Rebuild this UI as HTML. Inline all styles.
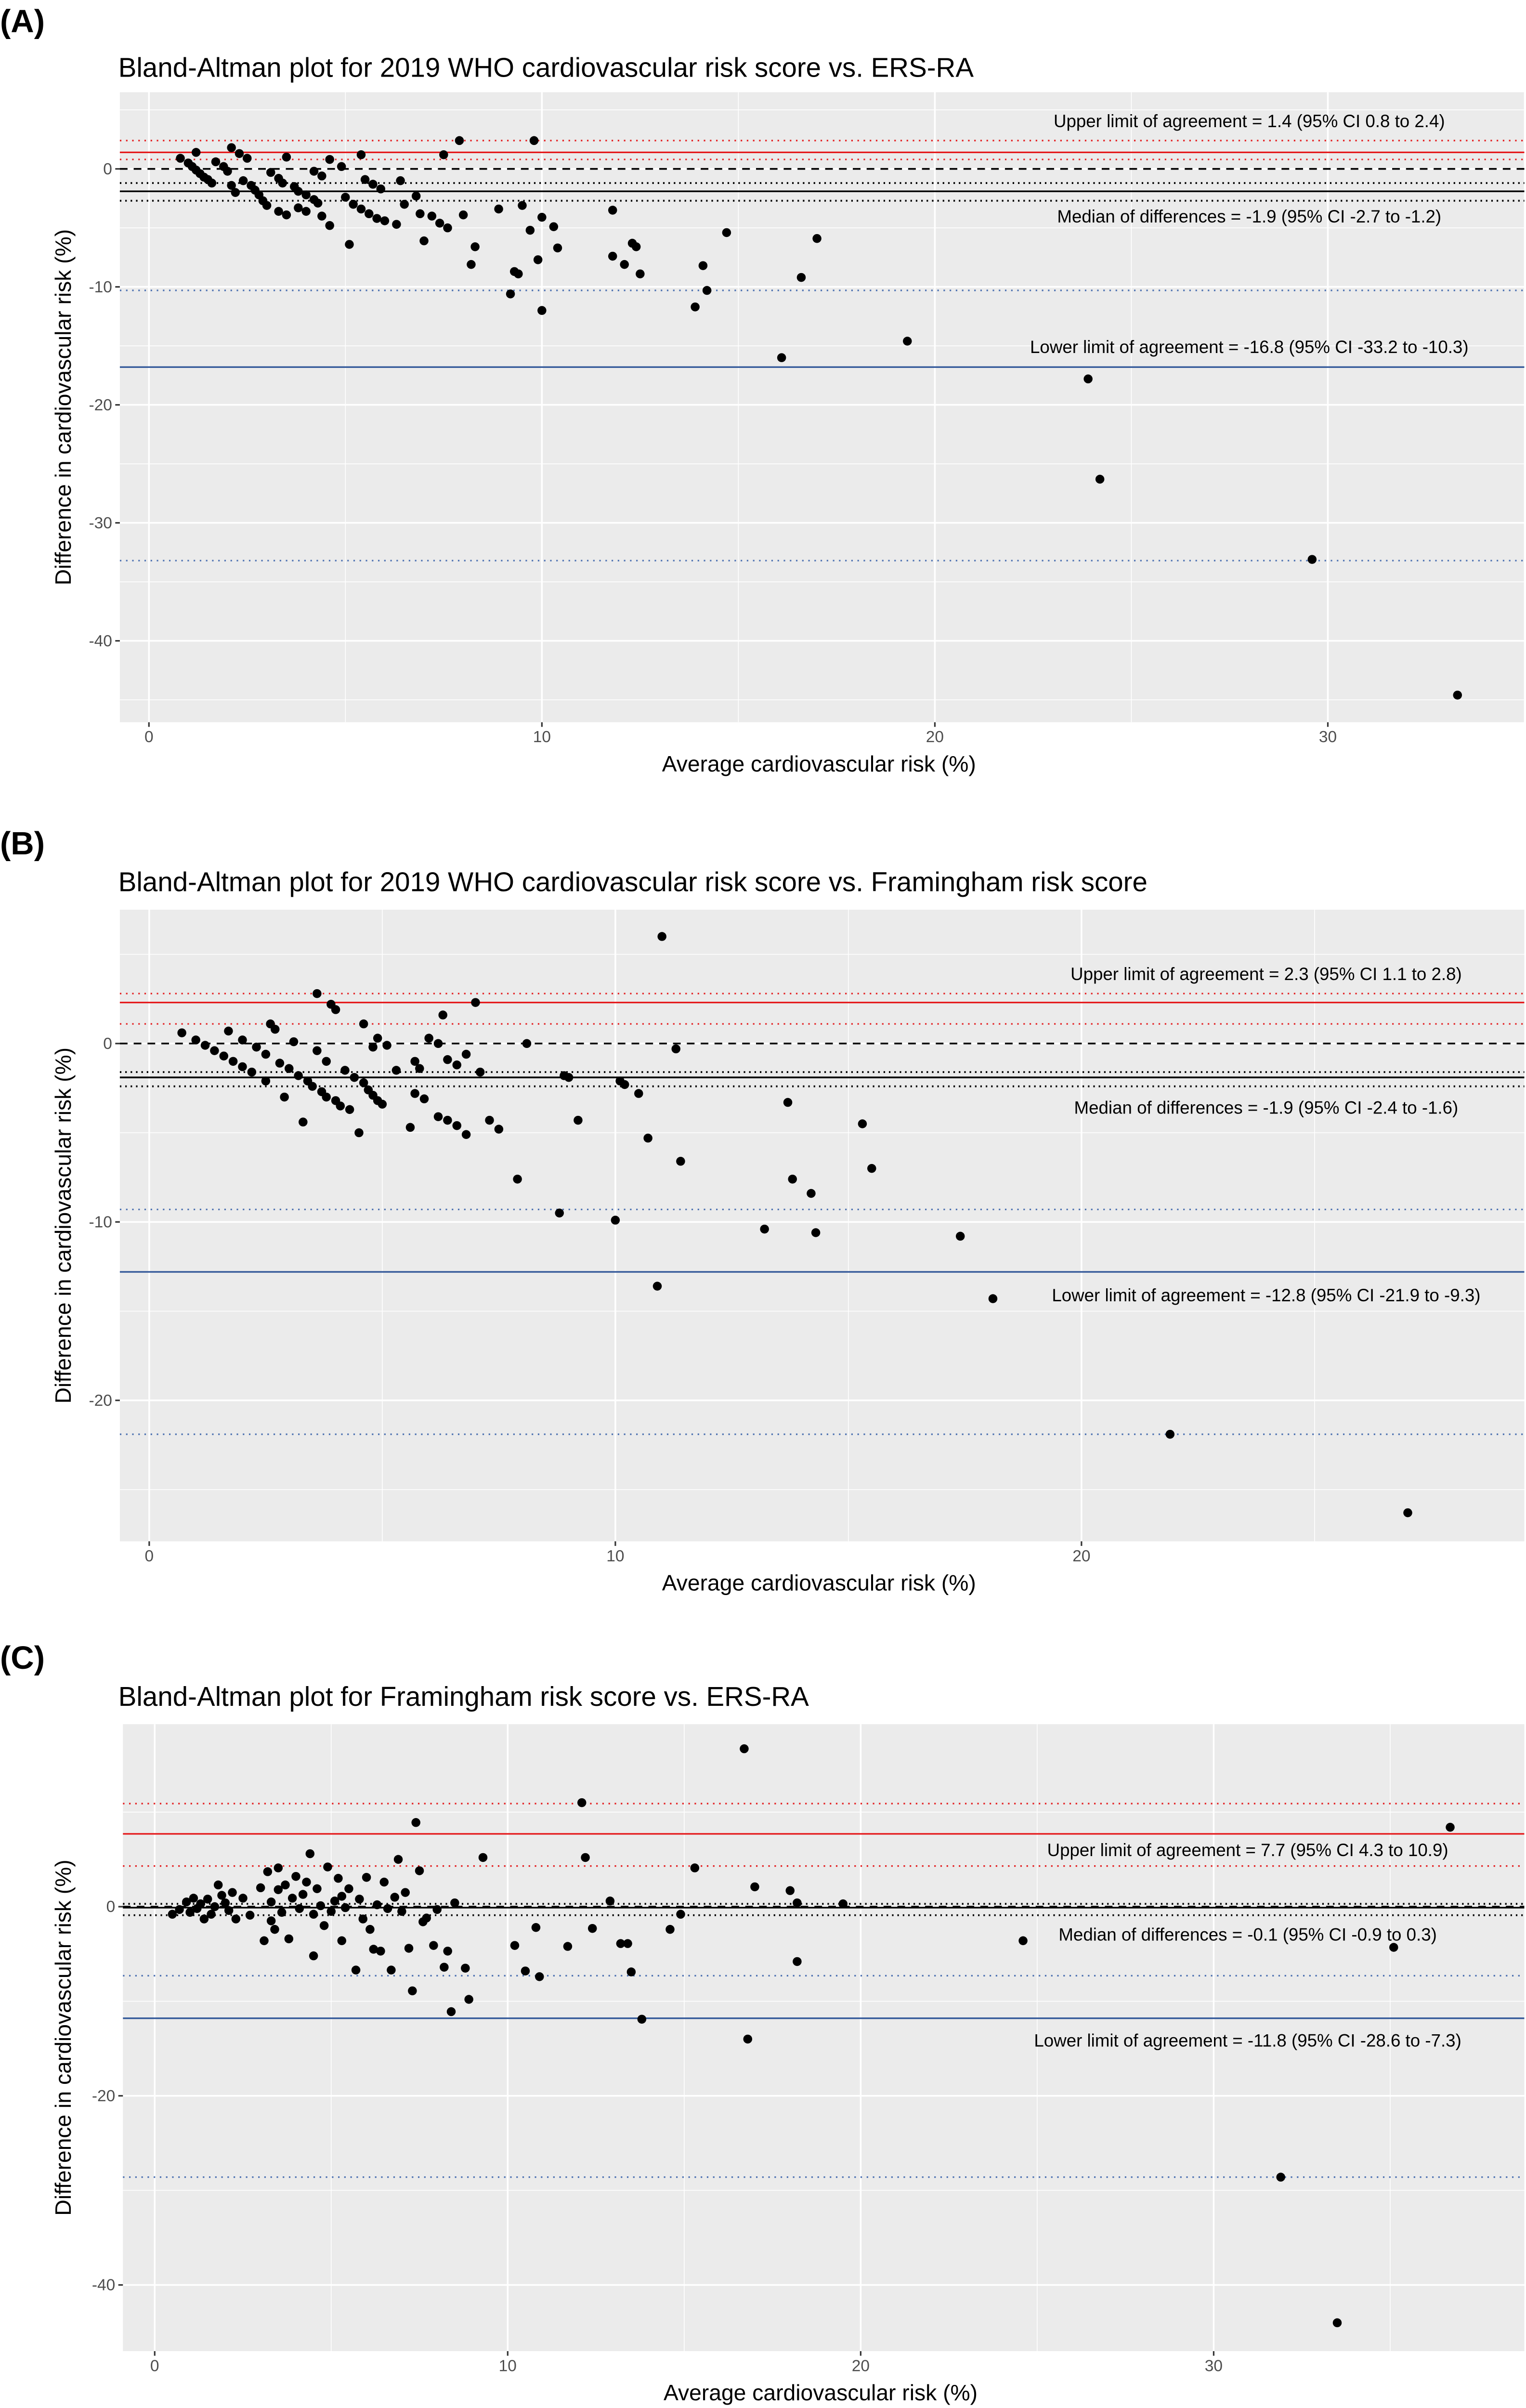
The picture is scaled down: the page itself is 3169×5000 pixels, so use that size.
<!DOCTYPE html>
<html><head><meta charset="utf-8"><style>
html,body{margin:0;padding:0;background:#fff}
svg{display:block;font-family:"Liberation Sans",Arial,sans-serif}
</style></head><body>
<svg id="chart" width="3169" height="5000" viewBox="0 0 993.1 1567" preserveAspectRatio="none" xmlns="http://www.w3.org/2000/svg"></svg>
<script>
// ---- Panel A data ----
const aAvg = [0.8,1.0,1.1,1.2,1.3,1.4,1.5,1.6,1.2,1.7,1.9,2.0,2.1,2.2,2.1,2.3,2.5,2.4,2.6,2.7,2.8,2.9,3.0,3.1,3.3,3.4,3.5,3.3,3.5,3.7,3.8,4.0,4.2,4.3,3.8,4.0,4.4,4.2,4.4,4.6,4.6,4.9,5.0,5.2,5.4,5.6,5.8,5.1,5.4,5.5,5.7,5.9,6.0,6.3,6.5,6.4,6.8,6.9,7.0,7.2,7.4,7.5,7.6,7.9,8.0,8.2,8.3,8.9,9.2,9.3,9.4,9.5,9.8,9.7,9.9,10.0,10.0,10.3,10.4,11.8,11.8,12.1,12.3,12.4,12.5,13.9,14.1,14.2,14.7,16.1,16.6,17.0,19.3,23.9,24.2,29.6,33.3];
const aDiff = [0.9,0.5,0.2,-0.1,-0.4,-0.7,-0.9,-1.2,1.4,0.6,0.2,-0.2,-1.4,-2.0,1.8,1.3,0.9,-1.0,-1.4,-1.8,-2.2,-2.7,-3.1,-0.3,-0.8,-1.2,-3.9,-3.6,1.0,-1.5,-1.9,-2.2,-2.6,-2.9,-3.3,-3.6,-4.0,-0.2,-0.6,-4.8,0.8,0.2,-2.4,-3.0,-3.4,-3.8,-4.2,-6.4,1.2,-0.9,-1.3,-1.7,-4.4,-4.7,-3.0,-1.0,-2.3,-3.8,-6.1,-4.0,-4.6,1.2,-5.0,2.4,-3.9,-8.1,-6.6,-3.4,-10.6,-8.7,-8.9,-3.1,2.4,-5.2,-7.7,-12.0,-4.1,-4.9,-6.7,-3.5,-7.4,-8.1,-6.3,-6.6,-8.9,-11.7,-8.2,-10.3,-5.4,-16.0,-9.2,-5.9,-14.6,-17.8,-26.3,-33.1,-44.6];
const aStats = [1.4,0.8,2.4,-1.9,-2.7,-1.2,-16.8,-33.2,-10.3];
const aXTicks = [0,10,20,30];
const aYTicks = [0,-10,-20,-30,-40];
// ---- Panel B data ----
const bAvg = [0.7,1.0,1.2,1.4,1.6,1.8,2.0,1.7,2.0,2.2,2.3,2.5,2.5,2.6,2.7,2.8,2.9,3.0,3.2,3.1,3.4,3.5,3.7,3.8,3.3,3.6,3.6,3.9,3.8,4.0,4.1,4.3,4.0,4.2,4.4,4.6,4.7,4.8,4.9,5.0,4.6,4.5,4.8,4.9,5.1,5.3,5.6,5.7,5.9,5.7,5.8,6.0,6.2,6.2,6.4,6.3,6.4,6.6,6.6,6.8,6.8,7.0,7.1,7.3,7.5,7.9,8.1,8.8,8.9,9.0,9.2,10.0,10.1,10.2,10.5,10.7,10.9,11.0,11.3,11.4,13.2,13.7,13.8,14.2,14.3,15.3,15.5,17.4,18.1,21.9,27.0];
const bDiff = [0.6,0.2,-0.1,-0.4,-0.7,-1.0,-1.3,0.7,0.2,-1.6,-0.2,-2.1,-0.6,1.1,0.8,-1.1,-3.0,-1.4,-1.8,0.1,-2.1,-2.4,-2.7,-3.0,-4.4,2.8,-0.4,2.2,-1.0,-3.2,-3.5,-3.7,1.9,-1.5,-1.9,-2.2,-2.6,-2.9,-3.2,-3.4,1.1,-5.0,-0.2,0.3,-0.1,-1.5,-4.7,-2.8,-3.1,-1.0,-1.4,0.3,0.0,-4.1,-4.3,1.6,-0.9,-1.2,-4.6,-5.1,-0.6,2.3,-1.6,-4.3,-4.8,-7.6,0.0,-9.5,-1.8,-1.9,-4.3,-9.9,-2.1,-2.3,-2.8,-5.3,-13.6,6.0,-0.3,-6.6,-10.4,-3.3,-7.6,-8.4,-10.6,-4.5,-7.0,-10.8,-14.3,-21.9,-26.3];
const bStats = [2.3,1.1,2.8,-1.9,-2.4,-1.6,-12.8,-21.9,-9.3];
const bXTicks = [0,10,20];
const bYTicks = [0,-10,-20];
// ---- Panel C data ----
const cAvg = [0.5,0.7,0.9,1.0,1.1,1.2,1.3,1.4,1.5,1.6,1.7,1.8,1.9,2.0,2.1,2.2,2.3,2.5,2.7,3.0,3.1,3.2,3.3,3.3,3.4,3.5,3.5,3.6,3.7,3.8,3.9,4.0,4.1,4.2,4.3,4.4,4.5,4.5,4.6,4.7,4.8,4.9,5.0,5.1,5.2,5.3,5.3,5.4,5.5,5.7,5.8,5.9,6.0,6.1,6.2,6.3,6.4,6.5,6.6,6.7,6.8,6.9,7.0,7.1,7.2,7.3,7.4,7.5,7.6,7.7,7.9,8.0,8.2,8.3,8.4,8.5,8.8,8.9,9.3,10.2,10.5,10.8,10.9,11.7,12.1,12.2,12.4,12.9,13.2,13.4,13.5,13.8,14.6,14.9,15.3,16.7,16.8,17.0,18.0,18.2,18.2,19.5,24.6,31.9,33.5,35.1,36.7];
const cDiff = [-0.8,-0.3,0.5,-0.6,0.9,-0.2,0.3,-1.3,0.8,-0.8,0.0,2.3,1.2,0.4,-0.4,1.5,-1.3,0.9,-0.9,2.0,-3.6,3.7,0.5,-1.5,-2.4,4.1,1.8,-0.6,2.3,-3.4,0.9,3.2,-0.2,1.3,2.6,5.6,-5.2,-0.8,1.9,0.1,-2.0,4.2,-0.5,0.6,3.0,1.1,-3.6,-0.1,1.9,-6.7,0.8,-1.3,3.1,-2.4,-4.5,0.2,-4.7,2.6,-0.2,-6.7,1.0,5.0,-0.5,1.5,-4.4,-8.9,8.9,3.8,-1.6,-1.2,-4.1,-0.3,-6.4,-4.7,-11.1,0.4,-6.5,-9.8,5.2,-4.1,-6.8,-2.2,-7.4,-4.2,11.0,5.2,-2.3,0.6,-3.9,-3.9,-6.9,-11.9,-2.4,-0.8,4.1,16.7,-14.0,2.1,1.7,0.4,-5.8,0.3,-3.6,-28.6,-44.0,-4.3,8.4];
const cStats = [7.7,4.3,10.9,-0.1,-0.9,0.3,-11.8,-28.6,-7.3];
const cXTicks = [0,10,20,30];
const cYTicks = [0,-20,-40];

const NS="http://www.w3.org/2000/svg";
const svg=document.getElementById('chart');
function mk(tag,attrs,parent){const e=document.createElementNS(NS,tag);for(const k in attrs)e.setAttribute(k,attrs[k]);(parent||svg).appendChild(e);return e;}

function panel(p){
  const g=mk('g',{});
  
  
  const sx=v=>p.x0+(v-p.xmin)/(p.xmax-p.xmin)*(p.x1-p.x0);
  const sy=v=>p.y0+(p.ymax-v)/(p.ymax-p.ymin)*(p.y1-p.y0);
  const lab=mk('text',{x:0,y:p.labY,'font-size':21,'font-weight':'bold',fill:'#000'},g);lab.textContent='('+p.id.toUpperCase()+')';
  
  
  const t=mk('text',{x:77,y:p.titleY,'font-size':17.7,fill:'#000'},g);t.textContent=p.title;
  
  
  const bg=mk('rect',{x:p.x0,y:p.y0,width:p.x1-p.x0,height:p.y1-p.y0,fill:'#EBEBEB'},g);
  
  
  const xst=p.xT[1]-p.xT[0], yst=p.yT[0]-p.yT[1];
  for(let v=p.xT[0]-xst/2;v<=p.xmax;v+=xst){if(v<p.xmin)continue;mk('line',{x1:sx(v),x2:sx(v),y1:p.y0,y2:p.y1,stroke:'#fff','stroke-width':0.5},g);}
  for(let v=p.yT[0]+yst/2*3;v>=p.ymin;v-=yst/2){if(v>p.ymax)continue;mk('line',{x1:p.x0,x2:p.x1,y1:sy(v),y2:sy(v),stroke:'#fff','stroke-width':0.5},g);}
  p.xT.forEach(v=>{
    const l=mk('line',{x1:sx(v),x2:sx(v),y1:p.y0,y2:p.y1,stroke:'#fff','stroke-width':1.1},g);
    
    
    mk('line',{x1:sx(v),x2:sx(v),y1:p.y1,y2:p.y1+3,stroke:'#333','stroke-width':1},g);
    const tx=mk('text',{x:sx(v),y:p.y1+13,'font-size':10.5,fill:'#4D4D4D','text-anchor':'middle'},g);tx.textContent=v;
    
    
  });
  const extraY=[...p.yT]; if(p.yExtra) extraY.push(p.yExtra);
  extraY.forEach(v=>{
    const l=mk('line',{x1:p.x0,x2:p.x1,y1:sy(v),y2:sy(v),stroke:'#fff','stroke-width':1.1},g);
    
    
  });
  p.yT.forEach(v=>{
    mk('line',{x1:p.x0-3,x2:p.x0,y1:sy(v),y2:sy(v),stroke:'#333','stroke-width':1},g);
    const ty=mk('text',{x:p.x0-5,y:sy(v)+3.5,'font-size':10.5,fill:'#4D4D4D','text-anchor':'end'},g);ty.textContent=v;
    
    
  });
  const xt=mk('text',{x:(p.x0+p.x1)/2-2,y:p.y1+32,'font-size':14.5,fill:'#000','text-anchor':'middle'},g);xt.textContent='Average cardiovascular risk (%)';
  
  
  const yc=(p.y0+p.y1)/2;
  const yt=mk('text',{x:46,y:yc,'font-size':14.5,fill:'#000','text-anchor':'middle',transform:'rotate(-90 46 '+yc+')'},g);yt.textContent='Difference in cardiovascular risk (%)';
  
  
  const s=p.stats;
  const hl=(v,col,dash,w,name)=>{const l=mk('line',{x1:p.x0,x2:p.x1,y1:sy(v),y2:sy(v),stroke:col,'stroke-width':w,'stroke-dasharray':dash||'none'},g);
    
    };
  if(p.zero) hl(0,'#000','5,4',1.1,'zero-line');
  hl(s[1],'#E41A1C','1,3',1,'upper-ci-line');hl(s[2],'#E41A1C','1,3',1,'upper-ci-line');hl(s[0],'#E41A1C','',1,'upper-limit-line');
  hl(s[4],'#000','1,2.5',1.2,'median-ci-line');hl(s[5],'#000','1,2.5',1.2,'median-ci-line');hl(s[3],'#000','',1.1,'median-line');
  hl(s[7],'#4A6FB0','1,3',1,'lower-ci-line');hl(s[8],'#4A6FB0','1,3',1,'lower-ci-line');hl(s[6],'#2F5597','',1,'lower-limit-line');
  p.avg.forEach((a,i)=>{
    const c=mk('circle',{cx:sx(a),cy:sy(p.diff[i]),r:2.9,fill:'#000'},g);
    
    
  });
  const ann=[['Upper limit of agreement = '+s[0]+' (95% CI '+s[1]+' to '+s[2]+')',p.annY[0]],['Median of differences = '+s[3]+' (95% CI '+s[4]+' to '+s[5]+')',p.annY[1]],['Lower limit of agreement = '+s[6]+' (95% CI '+s[7]+' to '+s[8]+')',p.annY[2]]];
  ann.forEach(([txt,y])=>{
    const a=mk('text',{x:p.annX,y:y+3.8,'font-size':11.5,fill:'#000','text-anchor':'middle'},g);a.textContent=txt;
    
    
  });
}
panel({id:'a',title:'Bland-Altman plot for 2019 WHO cardiovascular risk score vs. ERS-RA',labY:21,titleY:50,x0:78,x1:992,y0:60,y1:470,xmin:-0.74,xmax:35.0,ymin:-46.9,ymax:6.5,xT:aXTicks,yT:aYTicks,avg:aAvg,diff:aDiff,stats:aStats,zero:true,annX:813,annY:[79,141,226]});
panel({id:'b',title:'Bland-Altman plot for 2019 WHO cardiovascular risk score vs. Framingham risk score',labY:556,titleY:580,x0:78,x1:992,y0:592,y1:1003,xmin:-0.63,xmax:29.5,ymin:-27.9,ymax:7.5,xT:bXTicks,yT:bYTicks,avg:bAvg,diff:bDiff,stats:bStats,zero:true,annX:824,annY:[634,721,843]});
panel({id:'c',title:'Bland-Altman plot for Framingham risk score vs. ERS-RA',labY:1086,titleY:1110,x0:80,x1:992,y0:1122,y1:1530,xmin:-0.9,xmax:38.8,ymin:-47,ymax:19.3,xT:cXTicks,yT:cYTicks,yExtra:20,avg:cAvg,diff:cDiff,stats:cStats,zero:true,annX:812,annY:[1204,1259,1328]});
</script>
</body></html>
